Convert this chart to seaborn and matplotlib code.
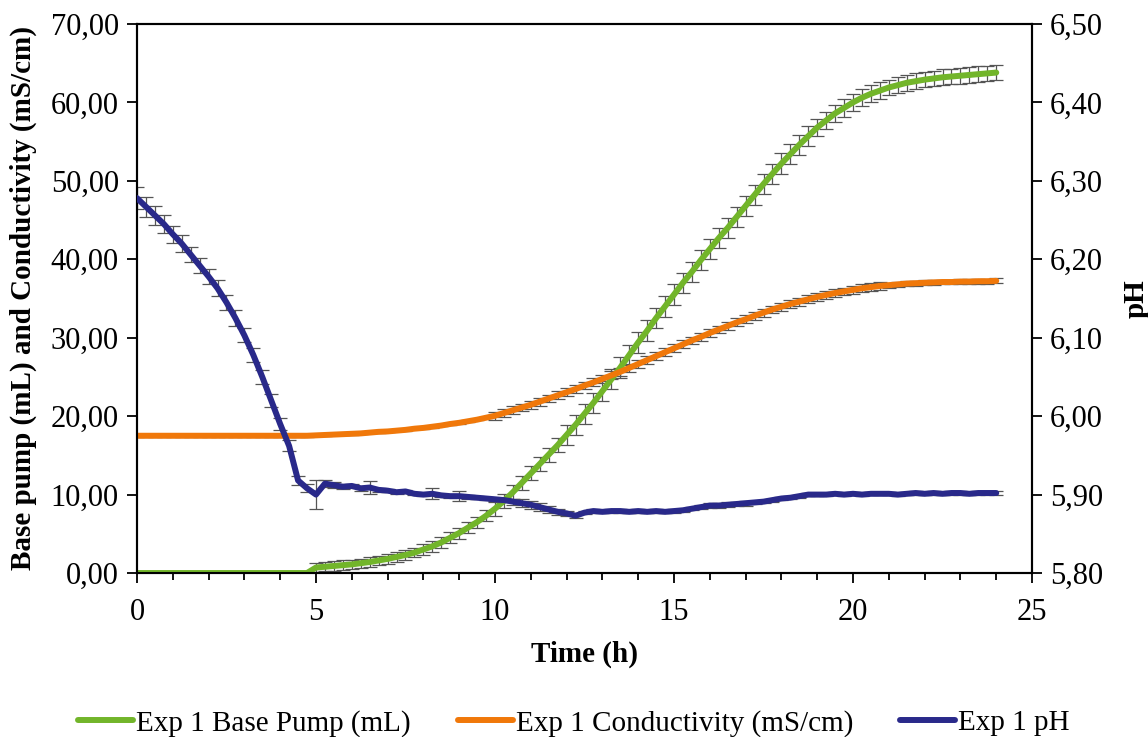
import numpy as np
import pandas as pd
import matplotlib
matplotlib.use("Agg")
import matplotlib.pyplot as plt
from matplotlib.ticker import FuncFormatter, MultipleLocator
import seaborn as sns

# Sampling grid (h), one reading every 15 min
time_h = np.arange(97) * 0.25

# Base pump volume (mL)
base_pump = [
    0, 0, 0, 0, 0, 0, 0, 0, 0, 0, 0, 0, 0, 0, 0, 0, 0, 0, 0, 0,
    0.7, 0.8, 0.9, 1.0, 1.1, 1.25, 1.4, 1.6, 1.8, 2.05, 2.3, 2.6,
    3.0, 3.4, 3.9, 4.5, 5.1, 5.8, 6.5, 7.3,
    8.2, 9.2, 10.3, 11.5, 12.7, 13.9, 15.1, 16.3,
    17.6, 18.9, 20.3, 21.7, 23.2, 24.7, 26.2, 27.8,
    29.4, 30.9, 32.5, 34.0, 35.5, 37.0, 38.4, 39.9,
    41.3, 42.7, 44.0, 45.4, 46.8, 48.2, 49.6, 50.9,
    52.2, 53.4, 54.6, 55.7, 56.8, 57.7, 58.6, 59.3,
    60.0, 60.6, 61.1, 61.5, 61.9, 62.2, 62.5, 62.7,
    62.9, 63.05, 63.2, 63.3, 63.4, 63.5, 63.6, 63.7, 63.8,
]
base_pump_sd = (
    [0.0] * 20 + [0.6] * 12 + [0.7] * 8 + [0.9] * 8
    + [1.3] * 28 + [1.1] * 8 + [1.0] * 13
)

# Conductivity (mS/cm)
conductivity = [
    17.5, 17.5, 17.5, 17.5, 17.5, 17.5, 17.5, 17.5, 17.5, 17.5,
    17.5, 17.5, 17.5, 17.5, 17.5, 17.5, 17.5, 17.5, 17.5, 17.5,
    17.55, 17.6, 17.65, 17.7, 17.75, 17.8, 17.9, 18.0,
    18.05, 18.15, 18.25, 18.4, 18.5, 18.65, 18.8, 19.0,
    19.15, 19.35, 19.55, 19.8, 20.05, 20.4, 20.75, 21.1,
    21.45, 21.85, 22.25, 22.65, 23.05, 23.45, 23.9, 24.3,
    24.75, 25.2, 25.65, 26.15, 26.65, 27.15, 27.65, 28.15,
    28.65, 29.15, 29.65, 30.1, 30.6, 31.05, 31.5, 31.95,
    32.35, 32.8, 33.2, 33.6, 33.95, 34.3, 34.6, 34.9,
    35.2, 35.45, 35.7, 35.9, 36.1, 36.3, 36.45, 36.6,
    36.7, 36.8, 36.9, 36.95, 37.0, 37.05, 37.1, 37.1,
    37.15, 37.15, 37.2, 37.2, 37.25,
]
conductivity_sd = [0.1] * 40 + [0.5] * 44 + [0.3] * 13

# pH
ph = [
    6.278, 6.267, 6.256, 6.245, 6.232, 6.220, 6.206, 6.192,
    6.178, 6.163, 6.145, 6.125, 6.103, 6.078, 6.050, 6.020,
    5.990, 5.962, 5.918, 5.908, 5.900, 5.914, 5.912, 5.910,
    5.911, 5.908, 5.909, 5.906, 5.905, 5.903, 5.904, 5.901,
    5.900, 5.901, 5.899, 5.898, 5.898, 5.897, 5.896, 5.895,
    5.894, 5.893, 5.891, 5.889, 5.887, 5.884, 5.881, 5.878,
    5.876, 5.873, 5.877, 5.879, 5.878, 5.879, 5.879, 5.878,
    5.879, 5.878, 5.879, 5.878, 5.879, 5.880, 5.882, 5.884,
    5.886, 5.886, 5.887, 5.888, 5.889, 5.890, 5.891, 5.893,
    5.895, 5.896, 5.898, 5.900, 5.900, 5.900, 5.901, 5.900,
    5.901, 5.900, 5.901, 5.901, 5.901, 5.900, 5.901, 5.902,
    5.901, 5.902, 5.901, 5.902, 5.902, 5.901, 5.902, 5.902, 5.902,
]
ph_sd = [
    0.014, 0.013, 0.012, 0.012, 0.011, 0.011, 0.010, 0.010,
    0.010, 0.010, 0.010, 0.010, 0.009, 0.009, 0.009, 0.008,
    0.008, 0.007, 0.006, 0.005, 0.018, 0.004, 0.004, 0.003,
    0.003, 0.003, 0.008, 0.003, 0.002, 0.002, 0.002, 0.002,
    0.002, 0.007, 0.002, 0.002, 0.006, 0.002, 0.002, 0.002,
    0.002, 0.003, 0.004, 0.005, 0.005, 0.005, 0.004, 0.004,
    0.003, 0.003, 0.002, 0.003,
] + [0.002] * 11 + [0.003] * 6 + [0.002] * 28

labels = ["Exp 1 Base Pump (mL)", "Exp 1 Conductivity (mS/cm)", "Exp 1 pH"]
colors = ["#72B52A", "#F0780A", "#29298A"]

df = pd.DataFrame({
    "time": time_h,
    "base": base_pump, "base_sd": base_pump_sd,
    "cond": conductivity, "cond_sd": conductivity_sd,
    "ph": ph, "ph_sd": ph_sd,
})

sns.set_theme(style="ticks")
plt.rcParams["font.family"] = ["Liberation Serif", "DejaVu Serif"]
plt.rcParams.update({
    "text.color": "black",
    "axes.labelcolor": "black",
    "xtick.color": "black",
    "ytick.color": "black",
    "axes.linewidth": 1.5,
})

fig = plt.figure(figsize=(11.48, 7.37), dpi=100)
ax = fig.add_axes([0.1193, 0.2225, 0.7797, 0.745])
ax2 = ax.twinx()

err_kw = dict(fmt="none", ecolor="#555555", elinewidth=0.9, capsize=5,
              capthick=0.9, zorder=1)
line_kw = dict(linewidth=4.3, solid_capstyle="round", zorder=3, legend=False)

ax.errorbar(df["time"], df["base"], yerr=df["base_sd"], **err_kw)
ax.errorbar(df["time"], df["cond"], yerr=df["cond_sd"], **err_kw)
sns.lineplot(data=df, x="time", y="base", color=colors[0], ax=ax, **line_kw)
sns.lineplot(data=df, x="time", y="cond", color=colors[1], ax=ax, **line_kw)

ax2.errorbar(df["time"], df["ph"], yerr=df["ph_sd"], **err_kw)
sns.lineplot(data=df, x="time", y="ph", color=colors[2], ax=ax2, **line_kw)

comma2 = FuncFormatter(lambda v, p: f"{v:.2f}".replace(".", ","))

ax.set_xlim(0, 25)
ax.set_ylim(0, 70)
ax2.set_ylim(5.80, 6.50)
ax.xaxis.set_major_locator(MultipleLocator(5))
ax.xaxis.set_minor_locator(MultipleLocator(1))
ax.yaxis.set_major_locator(MultipleLocator(10))
ax2.yaxis.set_major_locator(MultipleLocator(0.10))
ax.yaxis.set_major_formatter(comma2)
ax2.yaxis.set_major_formatter(comma2)

for a in (ax, ax2):
    for s in a.spines.values():
        s.set_linewidth(1.5)
        s.set_color("black")
ax.tick_params(axis="both", which="major", direction="out", length=7,
               width=1.3, labelsize=22, colors="black", pad=6)
ax.tick_params(axis="x", which="major", pad=11)
ax.tick_params(axis="x", which="minor", direction="out", length=5, width=1.3)
ax2.tick_params(axis="y", which="major", direction="out", length=7,
                width=1.3, labelsize=22, colors="black", pad=6)

ax.set_xlabel("Time (h)", fontsize=21, fontweight="bold", labelpad=10)
ax.set_ylabel("Base pump (mL) and Conductivity (mS/cm)", fontsize=21,
              fontweight="bold", labelpad=10)
ax2.set_ylabel("pH", fontsize=21, fontweight="bold", rotation=90, labelpad=14)

handles = [plt.Line2D([], [], color=c, linewidth=4.3, solid_capstyle="round")
           for c in colors]
fig.legend(handles, labels, loc="lower center", bbox_to_anchor=(0.5, -0.035),
           ncol=3, frameon=False, fontsize=21, handlelength=1.9,
           handletextpad=0.1, columnspacing=1.6)

fig.savefig("out.png", dpi=100, facecolor="white")
